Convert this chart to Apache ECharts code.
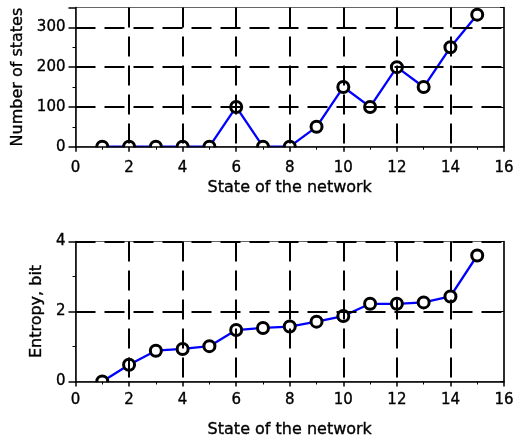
<!DOCTYPE html>
<html><head><meta charset="utf-8">
<script src="https://cdn.jsdelivr.net/npm/echarts@6/dist/echarts.min.js"></script>
<style>html,body{margin:0;padding:0;background:#fff}#c{width:517px;height:441px}</style>
</head><body><div id="c"></div>
<script>
const states = [1,2,3,4,5,6,7,8,9,10,11,12,13,14,15];
const numberOfStates = [0,0,0,0,0,100,0,0,50,150,100,200,150,250,332];
const entropyBits = [0,0.48,0.88,0.93,1.01,1.47,1.53,1.57,1.71,1.87,2.22,2.22,2.26,2.43,3.6];
const xTitle = 'State of the network';
const yTitleTop = 'Number of states';
const yTitleBottom = 'Entropy, bit';

const FONT = 'DejaVu Sans';
const txt = {fontFamily:FONT, color:'#000', textBorderColor:'#000', textBorderWidth:0.35};
const dashed = {show:true, lineStyle:{color:'#000', width:2, type:[20,9]}};
function xAxisCfg(gridIndex, margin, gap){
  return {
    type:'value', gridIndex, min:0, max:16, interval:2,
    name:xTitle, nameLocation:'middle', nameGap:gap,
    nameTextStyle:Object.assign({fontSize:16}, txt),
    axisLine:{show:true, onZero:false, lineStyle:{color:'#000', width:1.5}},
    axisTick:{show:true, inside:false, length:5, lineStyle:{color:'#000', width:1.5}},
    minorTick:{show:true, splitNumber:2, length:3, lineStyle:{color:'#000', width:1}},
    axisLabel:Object.assign({fontSize:15, margin:margin}, txt),
    splitLine:Object.assign({showMinLine:false, showMaxLine:false}, dashed),
    z:5
  };
}
function yAxisCfg(gridIndex, min, max, interval, name, gap, showMax){
  return {
    type:'value', gridIndex, min, max, interval,
    name, nameLocation:'middle', nameGap:gap, nameRotate:90,
    nameTextStyle:Object.assign({fontSize:16}, txt),
    axisLine:{show:true, onZero:false, lineStyle:{color:'#000', width:1.5}},
    axisTick:{show:true, inside:false, length:7, lineStyle:{color:'#000', width:1.5}},
    minorTick:{show:true, splitNumber:2, length:3, lineStyle:{color:'#000', width:1}},
    axisLabel:Object.assign({fontSize:15, margin:10, showMaxLabel:showMax}, txt),
    splitLine:Object.assign({showMinLine:false, showMaxLine:showMax}, dashed),
    z:5
  };
}
function rightAxis(gridIndex, min, max, interval){
  return {
    type:'value', gridIndex, min, max, interval, position:'right',
    axisLine:{show:true, onZero:false, lineStyle:{color:'#000', width:1.5}},
    axisTick:{show:true, inside:true, length:4, lineStyle:{color:'#000', width:1}},
    minorTick:{show:false},
    axisLabel:{show:false}, splitLine:{show:false}, z:5
  };
}
const seriesStyle = {
  type:'line', symbol:'circle', symbolSize:11, clip:true,
  lineStyle:{color:'#0000ff', width:2.3},
  itemStyle:{color:'#fff', borderColor:'#000', borderWidth:3},
  emphasis:{disabled:true}, z:3
};
const chart = echarts.init(document.getElementById('c'), null, {renderer:'canvas'});
chart.setOption({
  animation:false,
  backgroundColor:'#fff',
  grid:[
    {left:75.5, top:7.5, width:428.5, height:139.2, show:true, borderColor:'#666', borderWidth:1},
    {left:75.5, top:241.5, width:428.5, height:140, show:true, borderColor:'#666', borderWidth:1}
  ],
  xAxis:[xAxisCfg(0, 14, 33), xAxisCfg(1, 11, 40)],
  yAxis:[
    yAxisCfg(0, 0, 350, 100, yTitleTop, 49, false),
    yAxisCfg(1, 0, 4, 2, yTitleBottom, 30, true),
    rightAxis(0, 0, 350, 100),
    rightAxis(1, 0, 4, 2)
  ],
  series:[
    Object.assign({}, seriesStyle, {xAxisIndex:0, yAxisIndex:0, data:states.map((s,i)=>[s, numberOfStates[i]])}),
    Object.assign({}, seriesStyle, {xAxisIndex:1, yAxisIndex:1, data:states.map((s,i)=>[s, entropyBits[i]])})
  ]
});
// white masks below each plot area so markers sitting on the x axis are clipped like the original
const masks = [0,1].map(g => {
  const p0 = chart.convertToPixel({gridIndex:g}, [0,0]);
  const p1 = chart.convertToPixel({gridIndex:g}, [16,0]);
  return {type:'rect', z:4, silent:true,
    shape:{x:p0[0]+1, y:p0[1]+0.8, width:p1[0]-p0[0]-2, height:8},
    style:{fill:'#fff'}};
});
chart.setOption({graphic:masks});
</script></body></html>
